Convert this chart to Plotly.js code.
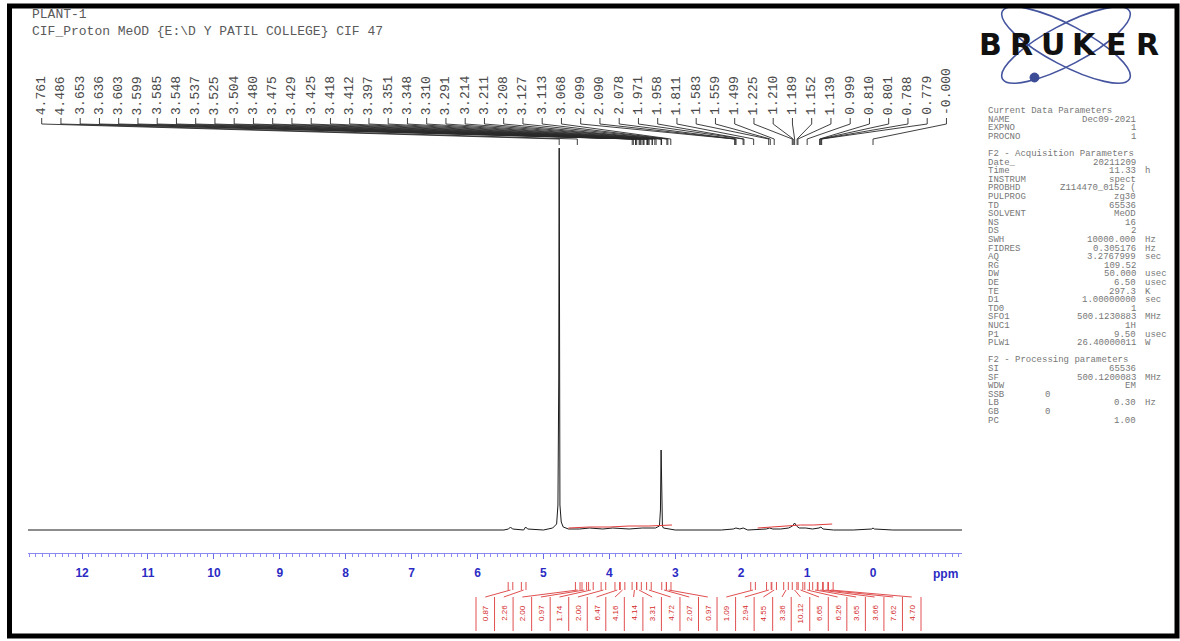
<!DOCTYPE html>
<html><head><meta charset="utf-8">
<script src="https://cdn.plot.ly/plotly-3.0.1.min.js"></script>
<style>html,body{margin:0;padding:0;background:#fff;}#chart{width:1180px;height:641px;}</style>
</head><body><div id="chart"></div>
<script>
// ---------------- data ----------------
const xRange = [12.82, -1.35];
const axisTicks = [12, 11, 10, 9, 8, 7, 6, 5, 4, 3, 2, 1, 0];

const specPpm = [12.82, 5.60, 5.53, 5.50, 5.47, 5.30, 5.27, 5.24, 5.00, 4.86, 4.80, 4.78, 4.768, 4.761, 4.754, 4.75, 4.73, 4.70, 4.62, 4.45, 4.30, 4.10, 3.95, 3.70, 3.50, 3.30, 3.24, 3.225, 3.215, 3.205, 3.195, 3.18, 3.10, 3.00, 2.70, 2.30, 2.12, 2.08, 2.02, 1.97, 1.90, 1.62, 1.57, 1.52, 1.40, 1.28, 1.22, 1.19, 1.16, 1.12, 1.02, 0.92, 0.82, 0.79, 0.76, 0.60, 0.30, 0.02, 0.0, -0.02, -0.30, -1.35];
const specInt = [0, 0, 1, 3, 1, 0, 3, 1, 0, 2, 6, 25, 150, 382, 150, 25, 8, 3, 1, 1, 2, 1, 2, 1, 2, 2, 4, 20, 80, 20, 4, 2, 1, 0, 0, 0, 1, 2, 1, 2, 0, 1, 2, 1, 1, 2, 4, 7, 4, 2, 2, 1, 2, 3, 1, 0, 0, 1, 2, 1, 0, 0];

const integralCurve1Ppm = [4.62, 4.30, 4.00, 3.70, 3.40, 3.05];
const integralCurve1Y = [2, 3, 3, 4, 4, 5];
const integralCurve2Ppm = [1.75, 1.50, 1.30, 1.10, 0.90, 0.62];
const integralCurve2Y = [2, 3, 4, 5, 5, 6];

const peakLabels = ["4.761","4.486","3.653","3.636","3.603","3.599","3.585","3.548","3.537","3.525","3.504","3.480","3.475","3.429","3.425","3.418","3.412","3.397","3.351","3.348","3.310","3.291","3.214","3.211","3.208","3.127","3.113","3.068","2.099","2.090","2.078","1.971","1.958","1.811","1.583","1.559","1.499","1.225","1.210","1.189","1.152","1.139","0.999","0.810","0.801","0.788","0.779","-0.000"];

const integralValues = ["0.87","2.26","2.00","0.97","1.74","2.00","6.47","4.16","4.14","3.31","4.72","2.07","0.97","1.09","2.94","4.55","3.36","10.12","6.65","6.26","3.65","3.66","7.62","4.70"];
const integralCenters = [5.50, 5.30, 4.48, 4.38, 4.28, 4.09, 3.88, 3.80, 3.62, 3.55, 3.40, 3.17, 3.10, 1.82, 1.58, 1.50, 1.32, 1.19, 1.10, 1.00, 0.88, 0.80, 0.72, 0.64];

const headerLines = ["PLANT-1", "CIF_Proton MeOD {E:\\D Y PATIL COLLEGE} CIF 47"];

const paramRows   = [0, 1, 2, 3, 5, 6, 7, 8, 9, 10, 11, 12, 13, 14, 15, 16, 17, 18, 19, 20, 21, 22, 23, 24, 25, 26, 27, 29, 30, 31, 32, 33, 34, 35, 36];
const paramNames  = ["Current Data Parameters","NAME","EXPNO","PROCNO","F2 - Acquisition Parameters","Date_","Time","INSTRUM","PROBHD","PULPROG","TD","SOLVENT","NS","DS","SWH","FIDRES","AQ","RG","DW","DE","TE","D1","TD0","SFO1","NUC1","P1","PLW1","F2 - Processing parameters","SI","SF","WDW","SSB","LB","GB","PC"];
const paramValues = ["","Dec09-2021","1","1","","20211209","11.33","spect","Z114470_0152 (","zg30","65536","MeOD","16","2","10000.000","0.305176","3.2767999","109.52","50.000","6.50","297.3","1.00000000","1","500.1230883","1H","9.50","26.40000011","","65536","500.1200083","EM","0","0.30","0","1.00"];
const paramUnits  = ["","","","","","","h","","","","","","","","Hz","Hz","sec","","usec","usec","K","sec","","MHz","","usec","W","","","MHz","","","Hz","",""];
const paramMid    = ["SSB","GB"];

// ---------------- layout helpers (pixel -> paper) ----------------
const M = {l: 28, r: 218, t: 60, b: 88};
const W = 1180, H = 641;
const PW = W - M.l - M.r, PH = H - M.t - M.b;
const px = X => (X - M.l) / PW;
const py = Y => (H - M.b - Y) / PH;
const ppmAt = X => xRange[0] - (X - M.l) / PW * (xRange[0] - xRange[1]);

const mono = "Liberation Mono, Courier New, monospace";
const traces = [];

// spectrum
traces.push({x: specPpm, y: specInt, type: 'scatter', mode: 'lines',
  line: {color: '#1a1a1a', width: 1}, hoverinfo: 'skip'});
// integral curves
traces.push({x: integralCurve1Ppm, y: integralCurve1Y, type: 'scatter', mode: 'lines',
  line: {color: '#e03a3a', width: 1}, hoverinfo: 'skip'});
traces.push({x: integralCurve2Ppm, y: integralCurve2Y, type: 'scatter', mode: 'lines',
  line: {color: '#e03a3a', width: 1}, hoverinfo: 'skip'});

// peak label fan
const labelPpm = peakLabels.map((s, i) => ppmAt(41.7 + i * 19.25));
const fanX = [], fanY = [];
peakLabels.forEach((s, i) => {
  const pk = parseFloat(s);
  fanX.push(labelPpm[i], labelPpm[i], pk, pk, null);
  fanY.push(412, 406, 391, 385, null);
});
traces.push({x: fanX, y: fanY, type: 'scatter', mode: 'lines',
  line: {color: '#2a2a2a', width: 0.9}, hoverinfo: 'skip', connectgaps: false});

const annotations = [];
const shapes = [];

peakLabels.forEach((s, i) => {
  annotations.push({x: labelPpm[i], y: 413, xref: 'x', yref: 'y', text: s, showarrow: false,
    textangle: -90, xanchor: 'center', yanchor: 'bottom',
    font: {family: mono, size: 13, color: '#4a4a4a'}});
});

// header (two lines in one text block)
annotations.push({x: px(30), y: py(5), xref: 'paper', yref: 'paper', text: headerLines.join('<br>'),
  showarrow: false, xanchor: 'left', yanchor: 'top', align: 'left',
  font: {family: mono, size: 13, color: '#5a5a5a'}});

// ppm label
annotations.push({x: px(945), y: py(574), xref: 'paper', yref: 'paper', text: 'ppm',
  showarrow: false, xanchor: 'center', yanchor: 'middle',
  font: {family: 'Liberation Sans, Arial, sans-serif', size: 12, color: '#2b2bc4', weight: 'bold'}});

// integral boxes
const boxL = ppmAt(476), boxR = ppmAt(921);
const nB = integralValues.length;
const bw = (boxL - boxR) / nB;
for (let i = 0; i <= nB; i++) {
  const xx = boxL - i * bw;
  shapes.push({type: 'line', xref: 'x', yref: 'paper', x0: xx, x1: xx, y0: py(597), y1: py(631),
    line: {color: '#e05050', width: 1}});
}
integralValues.forEach((v, i) => {
  const cx = boxL - (i + 0.5) * bw;
  annotations.push({x: cx, y: py(613), xref: 'x', yref: 'paper', text: v, showarrow: false,
    textangle: -90, xanchor: 'center', yanchor: 'middle',
    font: {family: 'Liberation Sans, Arial, sans-serif', size: 8, color: '#d42a2a'}});
  const c = integralCenters[i];
  shapes.push({type: 'line', xref: 'x', yref: 'paper', x0: cx, x1: c, y0: py(597), y1: py(590),
    line: {color: '#e05050', width: 1}});
  [c - 0.035, c + 0.035].forEach(e => shapes.push({type: 'line', xref: 'x', yref: 'paper',
    x0: e, x1: e, y0: py(582), y1: py(590), line: {color: '#e05050', width: 1}}));
});

// parameter panel
paramNames.forEach((n, i) => {
  const Y = 111 + paramRows[i] * 8.6;
  annotations.push({x: px(986), y: py(Y), xref: 'paper', yref: 'paper', text: n, showarrow: false,
    xanchor: 'left', yanchor: 'middle', font: {family: mono, size: 9, color: '#777'}});
  if (paramValues[i]) {
    const mid = paramMid.includes(n);
    annotations.push({x: px(mid ? 1047 : 1138), y: py(Y), xref: 'paper', yref: 'paper', text: paramValues[i],
      showarrow: false, xanchor: mid ? 'center' : 'right', yanchor: 'middle',
      font: {family: mono, size: 9, color: '#777'}});
  }
  if (paramUnits[i]) {
    annotations.push({x: px(1143), y: py(Y), xref: 'paper', yref: 'paper', text: paramUnits[i],
      showarrow: false, xanchor: 'left', yanchor: 'middle',
      font: {family: mono, size: 9, color: '#777'}});
  }
});

// Bruker logo
function ellipsePath(cx, cy, a, b, deg) {
  const t = deg * Math.PI / 180, k = 0.5523;
  const P = (u, v) => {
    const X = cx + u * Math.cos(t) - v * Math.sin(t);
    const Y = cy + u * Math.sin(t) + v * Math.cos(t);
    return px(X).toFixed(5) + ',' + py(Y).toFixed(5);
  };
  return 'M' + P(a, 0) +
    ' C' + P(a, k * b) + ' ' + P(k * a, b) + ' ' + P(0, b) +
    ' C' + P(-k * a, b) + ' ' + P(-a, k * b) + ' ' + P(-a, 0) +
    ' C' + P(-a, -k * b) + ' ' + P(-k * a, -b) + ' ' + P(0, -b) +
    ' C' + P(k * a, -b) + ' ' + P(a, -k * b) + ' ' + P(a, 0) + ' Z';
}
shapes.push({type: 'path', xref: 'paper', yref: 'paper', path: ellipsePath(1066, 45, 72, 20, 28),
  line: {color: '#44549e', width: 1.6}});
shapes.push({type: 'path', xref: 'paper', yref: 'paper', path: ellipsePath(1066, 45, 72, 20, -28),
  line: {color: '#44549e', width: 1.6}});
shapes.push({type: 'circle', xref: 'paper', yref: 'paper', x0: px(1030), x1: px(1039), y0: py(73), y1: py(82),
  fillcolor: '#3b4b95', line: {color: '#3b4b95', width: 1}});
const brk = ['B','R','U','K','E','R'];
brk.forEach((ch, i) => {
  annotations.push({x: px(990 + i * 31.5), y: py(44), xref: 'paper', yref: 'paper', text: ch, showarrow: false,
    xanchor: 'center', yanchor: 'middle',
    font: {family: 'DejaVu Sans, Arial, sans-serif', size: 30, color: '#111', weight: 'bold'}});
});

// outer frame
shapes.push({type: 'rect', xref: 'paper', yref: 'paper', x0: px(9.5), x1: px(1177), y0: py(6), y1: py(636),
  line: {color: '#000', width: 5}, layer: 'above'});

const layout = {
  width: W, height: H, margin: M, showlegend: false,
  paper_bgcolor: '#fff', plot_bgcolor: '#fff',
  xaxis: {range: xRange, showgrid: false, zeroline: false, showline: true, linecolor: '#8a8af2', linewidth: 1,
    ticks: 'outside', ticklen: 5, tickcolor: '#6a6ae8', tickmode: 'array', tickvals: axisTicks,
    ticktext: axisTicks.map(String), ticklabelstandoff: 4,
    tickfont: {family: 'Liberation Sans, Arial, sans-serif', size: 12, color: '#2b2bc4', weight: 'bold'},
    minor: {tickmode: 'linear', tick0: 0, dtick: 0.1, ticks: 'outside', ticklen: 3, tickcolor: '#8a8af2', showgrid: false},
    fixedrange: true},
  yaxis: {range: [-23, 470], visible: false, fixedrange: true},
  annotations: annotations, shapes: shapes
};
Plotly.newPlot('chart', traces, layout, {displayModeBar: false, staticPlot: true});
</script></body></html>
